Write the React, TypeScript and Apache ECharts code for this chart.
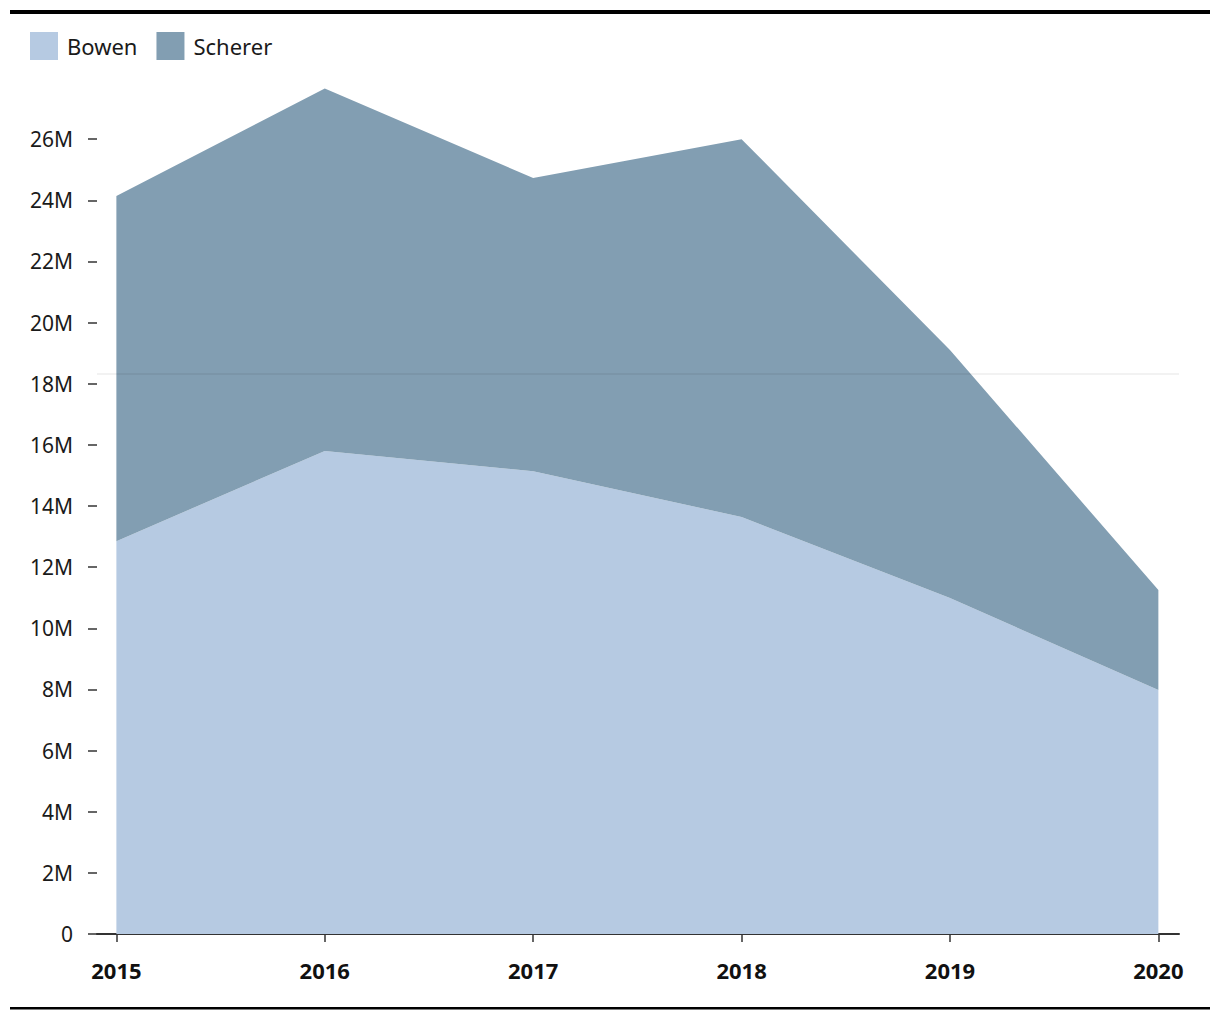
import React, { useEffect, useRef } from "react";
import * as echarts from "echarts";

const years = [2015, 2016, 2017, 2018, 2019, 2020];
const bowen = [12.85, 15.8, 15.14, 13.64, 10.99, 7.98];
const scherer = [11.29, 11.86, 9.59, 12.36, 8.11, 3.27];
const yTicks = [0, 2, 4, 6, 8, 10, 12, 14, 16, 18, 20, 22, 24, 26];
const refLineValue = 18.31;

const FONT = "'Noto Sans', 'DejaVu Sans', sans-serif";

export default function App() {
  const ref = useRef<HTMLDivElement>(null);
  useEffect(() => {
    if (!ref.current) return;
    const chart = echarts.init(ref.current, undefined, { renderer: "svg" });
    const M = 1e6;
    chart.setOption({
      animation: false,
      backgroundColor: "#ffffff",
      textStyle: { fontFamily: FONT },
      legend: {
        left: 30,
        top: 32,
        padding: 0,
        itemWidth: 28,
        itemHeight: 28,
        itemGap: 19,
        icon: "rect",
        textStyle: { fontSize: 22, color: "#1a1a1a", fontFamily: FONT, padding: [0, 0, 0, 4] },
        data: ["Bowen", "Scherer"],
      },
      grid: { left: 97, right: 41, top: 78, bottom: 86 },
      xAxis: {
        type: "value",
        min: 2014.907,
        max: 2020.099,
        splitLine: { show: false },
        axisLine: { show: true, lineStyle: { color: "#333333", width: 2 } },
        axisTick: { show: true, length: 8, customValues: years, lineStyle: { color: "#333333", width: 1.5 } },
        axisLabel: {
          customValues: years,
          formatter: (v: number) => String(Math.round(v)),
          fontSize: 22,
          fontWeight: "bold",
          color: "#111111",
          margin: 25,
          fontFamily: FONT,
        },
      },
      yAxis: {
        type: "value",
        min: 0,
        max: 28 * M,
        splitLine: { show: false },
        axisLine: { show: false },
        axisTick: {
          show: true,
          length: 9,
          customValues: yTicks.map((t) => t * M),
          lineStyle: { color: "#333333", width: 1.5 },
        },
        axisLabel: {
          customValues: yTicks.map((t) => t * M),
          formatter: (v: number) => (v === 0 ? "0" : v / M + "M"),
          fontSize: 21,
          color: "#1a1a1a",
          margin: 24,
          fontFamily: FONT,
        },
      },
      series: [
        {
          name: "Bowen",
          type: "line",
          stack: "total",
          data: years.map((y, i) => [bowen[i] * M, y]),
          encode: { x: 1, y: 0 },
          symbol: "none",
          lineStyle: { width: 0 },
          areaStyle: { color: "#b6cae2", opacity: 1 },
          itemStyle: { color: "#b6cae2" },
        },
        {
          name: "Scherer",
          type: "line",
          stack: "total",
          data: years.map((y, i) => [scherer[i] * M, y]),
          encode: { x: 1, y: 0 },
          symbol: "none",
          lineStyle: { width: 0 },
          areaStyle: { color: "#829eb2", opacity: 1 },
          itemStyle: { color: "#829eb2" },
          markLine: {
            silent: true,
            symbol: "none",
            label: { show: false },
            lineStyle: { color: "rgba(0,0,0,0.05)", width: 2, type: "solid" },
            data: [{ yAxis: refLineValue * M }],
          },
        },
      ],
      graphic: [
        { type: "rect", left: 10, top: 10, shape: { width: 1200, height: 4 }, style: { fill: "#000000" } },
        { type: "rect", left: 10, top: 1007, shape: { width: 1200, height: 2.5 }, style: { fill: "#000000" } },
      ],
    });
    return () => chart.dispose();
  }, []);
  return (
    <div
      ref={ref}
      style={{ position: "absolute", left: 0, top: 0, width: 1220, height: 1020 }}
    />
  );
}
